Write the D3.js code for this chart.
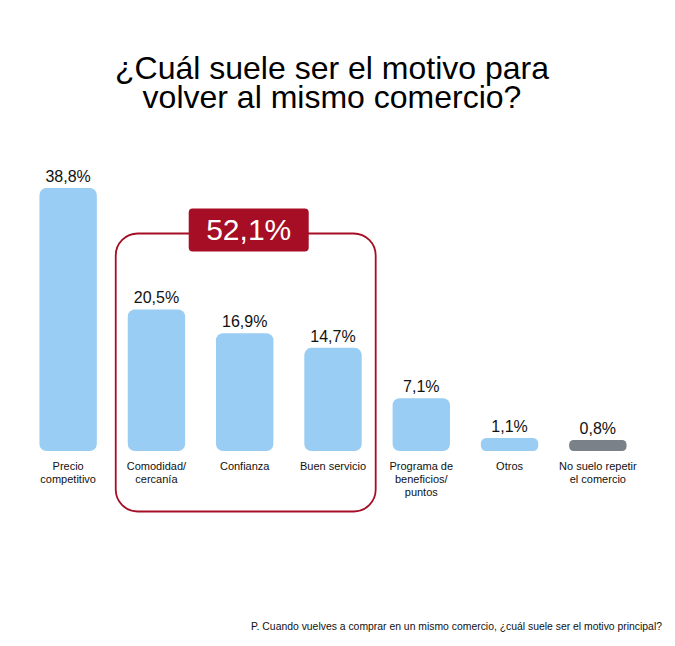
<!DOCTYPE html>
<html>
<head>
<meta charset="utf-8">
<script src="https://cdn.jsdelivr.net/npm/d3@7"></script>
<style>
  body { margin: 0; background: #fff; }
  text { font-family: "Liberation Sans", Arial, sans-serif; }
</style>
</head>
<body>
<svg width="675" height="646"></svg>
<script>
var titleLines = ["¿Cuál suele ser el motivo para", "volver al mismo comercio?"]
var categories = ["Precio\ncompetitivo", "Comodidad/\ncercanía", "Confianza", "Buen servicio",
    "Programa de\nbeneficios/\npuntos", "Otros", "No suelo repetir\nel comercio"]
var values = [38.8, 20.5, 16.9, 14.7, 7.1, 1.1, 0.8]
var groupedCategories = ["Comodidad/\ncercanía", "Confianza", "Buen servicio"]
var noRepeatCategory = "No suelo repetir\nel comercio"
var footnote = "P. Cuando vuelves a comprar en un mismo comercio, ¿cuál suele ser el motivo principal?"

var svg = d3.select("svg")
var data = categories.map(function(c, i){ return {cat: c, value: values[i]} })

var locale = d3.formatLocale({decimal: ",", thousands: ".", grouping: [3], currency: ["", "€"]})
var fmt = function(v){ return locale.format(".1f")(v) + "%" }

var x = d3.scaleBand().domain(categories).range([24, 642]).paddingInner(0.35).paddingOuter(0.175)
// domain starts slightly below 0 so tiny bars still show
var y = d3.scaleLinear().domain([-0.85, 38.8]).range([451, 188])

// title, one text per line
svg.selectAll(".title").data(titleLines).enter().append("text")
    .attr("class", "title")
    .attr("x", 332)
    .attr("y", function(d, i){ return 79 + i * 29 })
    .attr("text-anchor", "middle")
    .attr("font-size", "32px")
    .attr("fill", "#000")
    .text(function(d){ return d })

// group box behind bars
var gx0 = x(groupedCategories[0]) - 12
var gx1 = x(groupedCategories[groupedCategories.length - 1]) + x.bandwidth() + 14
svg.append("rect")
    .attr("x", gx0).attr("y", 233.5)
    .attr("width", gx1 - gx0).attr("height", 278)
    .attr("rx", 22)
    .attr("fill", "none")
    .attr("stroke", "#A50E24")
    .attr("stroke-width", 1.8)

var groupTotal = d3.sum(data.filter(function(d){ return groupedCategories.indexOf(d.cat) >= 0 }), function(d){ return d.value })
var gc = (gx0 + gx1) / 2 + 3
svg.append("rect")
    .attr("x", gc - 60).attr("y", 208.5)
    .attr("width", 120).attr("height", 43)
    .attr("rx", 4)
    .attr("fill", "#A50E24")
svg.append("text")
    .attr("x", gc).attr("y", 240)
    .attr("text-anchor", "middle")
    .attr("font-size", "30px")
    .attr("fill", "#fff")
    .text(fmt(groupTotal))

// bars
svg.selectAll(".bar").data(data).enter().append("rect")
    .attr("class", "bar")
    .attr("x", function(d){ return x(d.cat) })
    .attr("y", function(d){ return y(d.value) })
    .attr("width", x.bandwidth())
    .attr("height", function(d){ return y(y.domain()[0]) - y(d.value) })
    .attr("rx", function(d){ return Math.min(7, (y(y.domain()[0]) - y(d.value)) / 2.5) })
    .attr("fill", function(d){ return d.cat == noRepeatCategory ? "#7A8189" : "#99CDF3" })

// value labels
svg.selectAll(".val").data(data).enter().append("text")
    .attr("class", "val")
    .attr("x", function(d){ return x(d.cat) + x.bandwidth() / 2 })
    .attr("y", function(d){ return y(d.value) - 6 })
    .attr("text-anchor", "middle")
    .attr("font-size", "16px")
    .attr("fill", "#111")
    .text(function(d){ return fmt(d.value) })

// category labels
var labels = svg.selectAll(".cat").data(data).enter().append("text")
    .attr("class", "cat")
    .attr("y", 470)
    .attr("text-anchor", "middle")
    .attr("font-size", "11px")
    .attr("fill", "#111")
labels.selectAll("tspan").data(function(d){
        return d.cat.split("\n").map(function(s){ return {s: s, cat: d.cat} })
    }).enter().append("tspan")
    .attr("x", function(d){ return x(d.cat) + x.bandwidth() / 2 })
    .attr("dy", function(d, i){ return i == 0 ? 0 : 12.8 })
    .text(function(d){ return d.s })

// footnote
svg.append("text")
    .attr("x", 662).attr("y", 630)
    .attr("text-anchor", "end")
    .attr("font-size", "10.4px")
    .attr("fill", "#111")
    .text(footnote)
</script>
</body>
</html>
